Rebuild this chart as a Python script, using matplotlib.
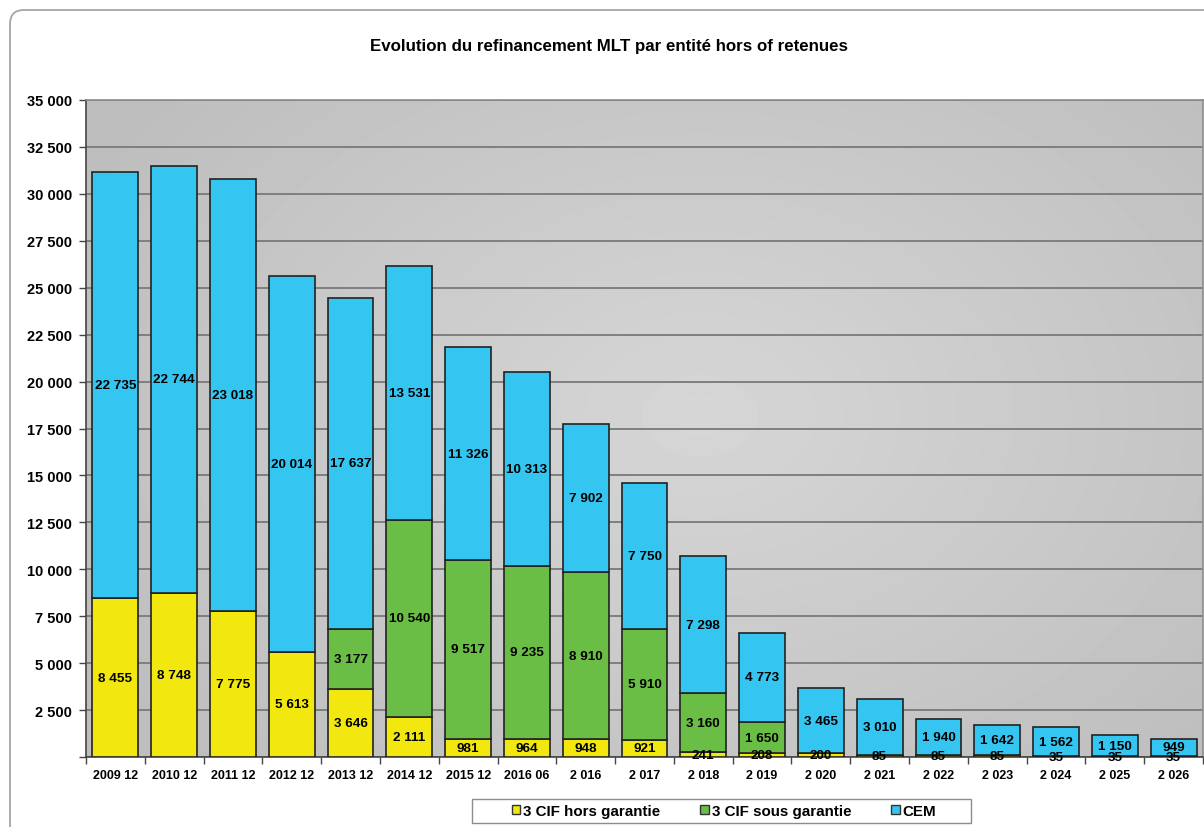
import numpy as np
import matplotlib
matplotlib.use("Agg")
from matplotlib import pyplot as plt
from matplotlib.patches import FancyBboxPatch, Patch, Rectangle

plt.rcParams['font.family'] = ['Liberation Sans', 'DejaVu Sans']
plt.rcParams['font.weight'] = 'bold'

# data
periods = ["2009 12", "2010 12", "2011 12", "2012 12", "2013 12", "2014 12",
           "2015 12", "2016 06", "2 016", "2 017", "2 018", "2 019", "2 020",
           "2 021", "2 022", "2 023", "2 024", "2 025", "2 026"]
cif_hors = [8455, 8748, 7775, 5613, 3646, 2111, 981, 964, 948, 921, 241, 208,
            200, 85, 85, 85, 35, 35, 35]
cif_sous = [0, 0, 0, 0, 3177, 10540, 9517, 9235, 8910, 5910, 3160, 1650,
            0, 0, 0, 0, 0, 0, 0]
cem = [22735, 22744, 23018, 20014, 17637, 13531, 11326, 10313, 7902, 7750,
       7298, 4773, 3465, 3010, 1940, 1642, 1562, 1150, 949]

series_names = ["3 CIF hors garantie", "3 CIF sous garantie", "CEM"]
colors = ["#F2E80F", "#6ABD45", "#35C5F1"]

def fmt(v):
    return "{:,}".format(int(v)).replace(",", " ")

W, H = 1204, 828
fig = plt.figure(figsize=(W / 100, H / 100), dpi=100)

# outer rounded frame and legend box, drawn in pixel units
bg = fig.add_axes([0, 0, 1, 1], zorder=-10)
bg.set_xlim(0, W)
bg.set_ylim(H, 0)
bg.axis("off")
bg.add_patch(FancyBboxPatch((10, 11), 1260, 880, boxstyle="round,pad=0,rounding_size=14",
                            fc="white", ec="#a6a6a6", lw=1.3))
bg.add_patch(Rectangle((472, 800), 499, 24, fc="white", ec="#8c8c8c", lw=1.0))

ax = fig.add_axes([86 / W, 1 - 758 / H, 1117 / W, 657 / H])
x = np.arange(len(periods))

# shaded plot background
gx, gy = np.meshgrid(np.linspace(0, 1, 300), np.linspace(0, 1, 200))
r = np.sqrt(((gx - 0.55) / 0.62) ** 2 + ((gy - 0.48) / 0.75) ** 2)
shade = 0.84 - 0.095 * np.clip(r, 0, 1)
ax.imshow(shade, cmap="gray", vmin=0, vmax=1, extent=(0, 1, 0, 1),
          transform=ax.transAxes, aspect="auto", zorder=0, interpolation="bilinear")

ax.set_xlim(-0.5, len(periods) - 0.5)
ax.set_ylim(0, 35000)
yt = np.arange(0, 35001, 2500)
ax.set_yticks(yt)
ax.set_yticklabels([fmt(v) if v > 0 else "" for v in yt], fontsize=10.5, fontweight="bold")
ax.yaxis.grid(True, color="#7f7f7f", lw=1.4, zorder=1)

bottom = np.zeros(len(periods))
width = 0.78
for vals, name, col in zip([cif_hors, cif_sous, cem], series_names, colors):
    vals = np.array(vals, dtype=float)
    ax.bar(x, vals, width, bottom=bottom, color=col, edgecolor="#222222",
           lw=1.2, zorder=3, label=name)
    for xi, b, v in zip(x, bottom, vals):
        if v > 0:
            ax.text(xi, b + v / 2, fmt(v), ha="center", va="center",
                    fontsize=9.7, fontweight="bold", color="black", zorder=5)
    bottom += vals

ax.set_xticks(x)
ax.set_xticklabels(periods, fontsize=9, fontweight="bold")
ax.set_xticks(np.arange(-0.5, len(periods), 1), minor=True)
ax.tick_params(axis="x", which="major", length=0, pad=9)
ax.tick_params(axis="x", which="minor", length=5, color="#444444", width=1)
ax.tick_params(axis="y", length=5, color="#444444", width=1, pad=5)

for s in ["top", "right"]:
    ax.spines[s].set_color("#8c8c8c")
    ax.spines[s].set_linewidth(1.2)
for s in ["left", "bottom"]:
    ax.spines[s].set_color("#444444")
    ax.spines[s].set_linewidth(1.2)

fig.text(609 / W, 1 - 46 / H, "Evolution du refinancement MLT par entité hors of retenues",
         ha="center", va="center", fontsize=12.2, fontweight="bold")

handles = [Patch(facecolor=c, edgecolor="#333333", lw=1) for c in colors]
fig.legend(handles, series_names, loc="center", bbox_to_anchor=(724 / W, 1 - 812 / H),
           ncol=3, frameon=False, handlelength=0.55, handleheight=0.55,
           handletextpad=0.2, columnspacing=2.65, borderpad=0.2,
           prop={"size": 10.9, "weight": "bold"})

fig.savefig("out.png", dpi=100)
